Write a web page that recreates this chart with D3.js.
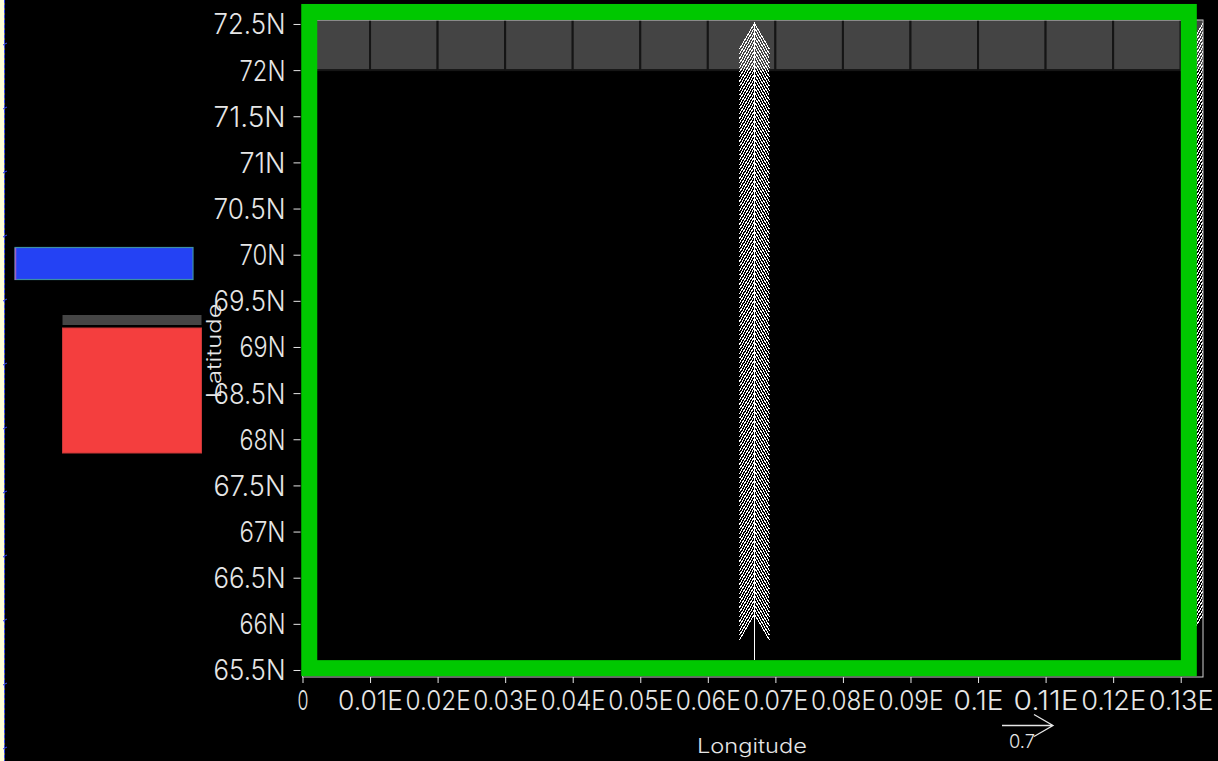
<!DOCTYPE html>
<html>
<head>
<meta charset="utf-8">
<script src="https://cdn.jsdelivr.net/npm/d3@7"></script>
<style>
  html, body { margin: 0; padding: 0; background: #000; }
  svg { display: block; }
</style>
</head>
<body>
<svg id="chart" width="1218" height="761"></svg>
<script>
// ---- axis ticks ----
const lonTicks = [0, 0.01, 0.02, 0.03, 0.04, 0.05, 0.06, 0.07, 0.08, 0.09, 0.10, 0.11, 0.12, 0.13];
const lonTickLabels = ["0", "0.01E", "0.02E", "0.03E", "0.04E", "0.05E", "0.06E", "0.07E",
                       "0.08E", "0.09E", "0.1E", "0.11E", "0.12E", "0.13E"];
const latTicks = [65.5, 66, 66.5, 67, 67.5, 68, 68.5, 69, 69.5, 70, 70.5, 71, 71.5, 72, 72.5];
const latTickLabels = ["65.5N", "66N", "66.5N", "67N", "67.5N", "68N", "68.5N", "69N",
                       "69.5N", "70N", "70.5N", "71N", "71.5N", "72N", "72.5N"];

// ---- plot extent (degrees) ----
const lonExtent = [0, 0.1333];
const latExtent = [65.424, 72.543];

// ---- current vectors: columns, rows, components ----
const vectorLon = [0.0669, 0.1333];
const vectorLatStart = 65.61;   // southernmost grid row
const vectorLatEnd = 72.04;     // northernmost grid row
const vectorLatStep = 0.05;     // grid spacing
const vectorU = [0, 0];
const vectorV = [0.63, 0.63];
const refMagnitude = 0.7;

// ---- land mask band along the northern edge ----
const maskLat = [72.0, 72.6];

// ---- highlighted region box ----
const boxLon = [0.001, 0.1312];
const boxLat = [65.52, 72.63];

const svg = d3.select("#chart");
const W = 1218, H = 761;
const FONT = "Inter, 'DejaVu Sans', sans-serif";
const WEIGHT = 300;
const INK = "#e6e6e6";

const x = d3.scaleLinear().domain(lonExtent).range([302.5, 1203]);
const y = d3.scaleLinear().domain(latExtent).range([677, 20]);

svg.append("rect").attr("width", W).attr("height", H).attr("fill", "#000");

// ---- window edge strip on the far left ----
svg.append("rect").attr("x", 0).attr("y", 0).attr("width", 4.5).attr("height", H).attr("fill", "#fffed8");
svg.append("line").attr("x1", 4.5).attr("x2", 4.5).attr("y1", 0).attr("y2", H)
  .attr("stroke", "#3344ee").attr("stroke-width", 1).attr("stroke-dasharray", "3,2");
svg.append("g").selectAll("path").data(d3.range(43, H, 64)).join("path")
  .attr("d", d => `M3,${d + 2} L7,${d}`)
  .attr("stroke", "#3344ee").attr("stroke-width", 1).attr("fill", "none");

// ---- side panels ----
svg.append("rect").attr("x", 15).attr("y", 247.5).attr("width", 178).attr("height", 32)
  .attr("fill", "#2442f4").attr("stroke", "#3d8fa6").attr("stroke-width", 1.2);
svg.append("line").attr("x1", 15.5).attr("x2", 15.5).attr("y1", 248).attr("y2", 280)
  .attr("stroke", "#a060c0").attr("stroke-width", 1.5);
svg.append("rect").attr("x", 62.5).attr("y", 315).attr("width", 139).attr("height", 10)
  .attr("fill", "#454545");
svg.append("rect").attr("x", 62.5).attr("y", 328).attr("width", 139).attr("height", 125)
  .attr("fill", "#f43e3e").attr("stroke", "#c83838").attr("stroke-width", 1);

// ---- clip to the plot frame ----
svg.append("clipPath").attr("id", "frameClip").append("rect")
  .attr("x", x(lonExtent[0])).attr("y", y(latExtent[1]))
  .attr("width", x(lonExtent[1]) - x(lonExtent[0]))
  .attr("height", y(latExtent[0]) - y(latExtent[1]));

const plot = svg.append("g").attr("clip-path", "url(#frameClip)");

// land mask cells, one per 0.01 degree of longitude
const cellEdges = lonTicks.concat([lonExtent[1]]);
const cells = d3.pairs(cellEdges);
plot.append("g").selectAll("rect").data(cells).join("rect")
  .attr("x", d => x(d[0])).attr("width", d => x(d[1]) - x(d[0]))
  .attr("y", y(maskLat[1])).attr("height", y(maskLat[0]) - y(maskLat[1]))
  .attr("fill", "#444").attr("stroke", "#151515").attr("stroke-width", 2);

// vector field
const pxPerUnit = 51 / refMagnitude;
const headLen = 26, headHalf = 15;
const vectorLat = d3.range(vectorLatStart, vectorLatEnd + 1e-9, vectorLatStep);
const vectors = [];
vectorLon.forEach((lon, i) => {
  vectorLat.forEach(lat => vectors.push({ lon, lat, u: vectorU[i], v: vectorV[i] }));
});
function arrowPath(x0, y0, dx, dy, hl, hw) {
  const x1 = x0 + dx, y1 = y0 + dy;
  const len = Math.hypot(dx, dy) || 1;
  const ux = dx / len, uy = dy / len;
  const bx = x1 - ux * hl, by = y1 - uy * hl;
  const px = -uy * hw, py = ux * hw;
  return `M${x0},${y0}L${x1},${y1}M${bx + px},${by + py}L${x1},${y1}L${bx - px},${by - py}`;
}
plot.append("g").selectAll("path").data(vectors).join("path")
  .attr("d", d => arrowPath(x(d.lon), y(d.lat), d.u * pxPerUnit, -d.v * pxPerUnit, headLen, headHalf))
  .attr("fill", "none").attr("stroke", "#ffffff").attr("stroke-width", 1)
  .attr("shape-rendering", "crispEdges");

// plot frame
svg.append("rect")
  .attr("x", x(lonExtent[0])).attr("y", y(latExtent[1]))
  .attr("width", x(lonExtent[1]) - x(lonExtent[0]))
  .attr("height", y(latExtent[0]) - y(latExtent[1]))
  .attr("fill", "none").attr("stroke", "#d0d0d0").attr("stroke-width", 1);

// region box
svg.append("rect")
  .attr("x", x(boxLon[0])).attr("y", y(boxLat[1]))
  .attr("width", x(boxLon[1]) - x(boxLon[0]))
  .attr("height", y(boxLat[0]) - y(boxLat[1]))
  .attr("fill", "none").attr("stroke", "#00c800").attr("stroke-width", 16);

// ---- axes ----
const xAxis = d3.axisBottom(x).tickValues(lonTicks)
  .tickFormat((d, i) => lonTickLabels[i]).tickSize(6).tickSizeOuter(0);
const gx = svg.append("g").attr("transform", `translate(0,${y(latExtent[0])})`).call(xAxis);
gx.select(".domain").remove();
gx.selectAll(".tick line").attr("stroke", INK);
gx.selectAll(".tick text")
  .attr("fill", INK).attr("font-family", FONT).attr("font-weight", WEIGHT).attr("font-size", 27)
  .attr("y", 33).attr("dy", null)
  .attr("lengthAdjust", "spacingAndGlyphs")
  .attr("textLength", (d, i) => {
    const n = lonTickLabels[i].length;
    return n >= 5 ? 65 : n === 4 ? 50 : 11;
  });

const yAxis = d3.axisLeft(y).tickValues(latTicks)
  .tickFormat((d, i) => latTickLabels[i]).tickSize(7).tickSizeOuter(0);
const gy = svg.append("g").attr("transform", `translate(${x(lonExtent[0]) - 2},0)`).call(yAxis);
gy.select(".domain").remove();
gy.selectAll(".tick line").attr("stroke", INK);
gy.selectAll(".tick text")
  .attr("fill", INK).attr("font-family", FONT).attr("font-weight", WEIGHT).attr("font-size", 28)
  .attr("x", -15).attr("y", 10).attr("dy", null)
  .attr("lengthAdjust", "spacingAndGlyphs")
  .attr("textLength", (d, i) => latTickLabels[i].length >= 5 ? 72 : 46);

// axis titles
svg.append("text").text("Longitude")
  .attr("x", 752).attr("y", 753).attr("text-anchor", "middle")
  .attr("font-family", FONT).attr("font-weight", WEIGHT).attr("font-size", 20).attr("fill", INK)
  .attr("lengthAdjust", "spacingAndGlyphs").attr("textLength", 110);
svg.append("text").text("Latitude")
  .attr("transform", "translate(221,351) rotate(-90)").attr("text-anchor", "middle")
  .attr("font-family", FONT).attr("font-weight", WEIGHT).attr("font-size", 20).attr("fill", INK)
  .attr("lengthAdjust", "spacingAndGlyphs").attr("textLength", 95);

// reference vector
const refX = 1002, refY = 725.5;
svg.append("path")
  .attr("d", arrowPath(refX, refY, refMagnitude * pxPerUnit, 0, 19, 11))
  .attr("fill", "none").attr("stroke", INK).attr("stroke-width", 1.3);
svg.append("text").text(String(refMagnitude))
  .attr("x", 1022).attr("y", 748).attr("text-anchor", "middle")
  .attr("font-family", FONT).attr("font-weight", WEIGHT).attr("font-size", 19).attr("fill", INK)
  .attr("lengthAdjust", "spacingAndGlyphs").attr("textLength", 26);
</script>
</body>
</html>
